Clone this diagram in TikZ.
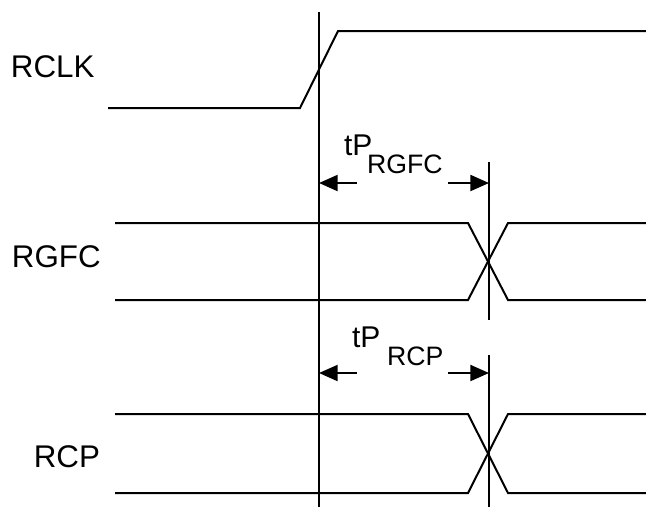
\documentclass[tikz,border=0pt]{standalone}
\usepackage{fontspec}
\setmainfont{Liberation Sans}
\usetikzlibrary{arrows.meta}

\begin{document}
\begin{tikzpicture}[x=.75pt,y=-.75pt,line width=1.5pt,
  every node/.style={font=\fontsize{23.5}{26}\selectfont,inner sep=0pt},
  tpname/.style={font=\fontsize{22.5}{24}\selectfont,anchor=base west},
  tpsub/.style={font=\fontsize{20}{22}\selectfont,anchor=base west},
  dimarrow/.style={-{Triangle[length=14pt,width=12pt]}}]
\useasboundingbox (0,0) rectangle (646,507);
% reference edge and delayed edges
\draw (319,12)--(319,507);
\draw (489,162)--(489,320);
\draw (489,355)--(489,507);
% RCLK
\draw (108,108)--(300,108)--(338,31)--(646,31);
% RGFC and RCP buses
\foreach \t/\b in {223/300,414/493}{
  \draw (115,\t)--(468,\t)--(508,\b)--(646,\b);
  \draw (115,\b)--(468,\b)--(508,\t)--(646,\t);
}
\node[anchor=base west] (rclk) at (10,77) {RCLK};
\node[anchor=base west] (rgfc) at (11,267) {RGFC};
\node[anchor=base east] (rcp) at (101,467) {RCP};
% delay labels
\node[tpname] (tpa) at (343,155) {tP};
\node[tpsub] (tpasub) at (366,173) {RGFC};
\node[tpname] (tpb) at (351,347) {tP};
\node[tpsub] (tpbsub) at (386,365) {RCP};
\coordinate (a1) at (357,183); \coordinate (a1e) at (319,183);
\coordinate (a2) at (448,183); \coordinate (a2e) at (489,183);
\coordinate (b1) at (357,373); \coordinate (b1e) at (319,373);
\coordinate (b2) at (448,373); \coordinate (b2e) at (489,373);
\draw[dimarrow] (a1)--(a1e);
\draw[dimarrow] (a2)--(a2e);
\draw[dimarrow] (b1)--(b1e);
\draw[dimarrow] (b2)--(b2e);
\end{tikzpicture}
\end{document}
